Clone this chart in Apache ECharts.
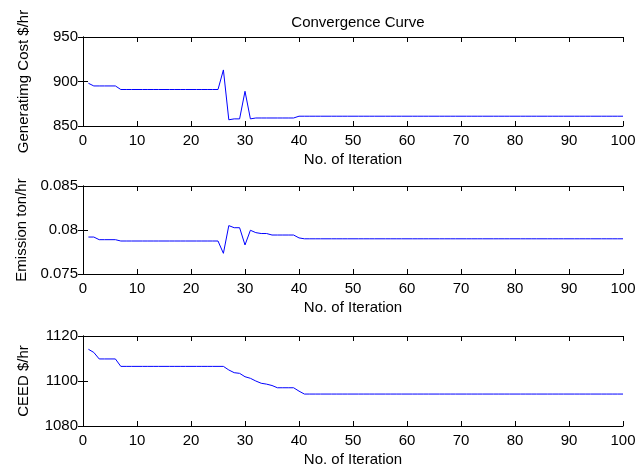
<!DOCTYPE html>
<html>
<head>
<meta charset="utf-8">
<script src="https://cdn.jsdelivr.net/npm/echarts@6/dist/echarts.min.js"></script>
<style>
  html, body { margin: 0; padding: 0; background: #fff; }
  #main { width: 640px; height: 470px; }
</style>
</head>
<body>
<div id="main"></div>
<script>
// values, iteration 1..100
var costData = [
  898, 895, 895, 895, 895, 895, 891, 891, 891, 891,
  891, 891, 891, 891, 891, 891, 891, 891, 891, 891,
  891, 891, 891, 891, 891, 913, 857, 858, 858, 889,
  858, 859, 859, 859, 859, 859, 859, 859, 859, 861,
  861, 861, 861, 861, 861, 861, 861, 861, 861, 861,
  861, 861, 861, 861, 861, 861, 861, 861, 861, 861,
  861, 861, 861, 861, 861, 861, 861, 861, 861, 861,
  861, 861, 861, 861, 861, 861, 861, 861, 861, 861,
  861, 861, 861, 861, 861, 861, 861, 861, 861, 861,
  861, 861, 861, 861, 861, 861, 861, 861, 861, 861
];
var emissionData = [
  0.0792, 0.0792, 0.0789, 0.0789, 0.0789, 0.0789, 0.07875, 0.07875, 0.07875, 0.07875,
  0.07875, 0.07875, 0.07875, 0.07875, 0.07875, 0.07875, 0.07875, 0.07875, 0.07875, 0.07875,
  0.07875, 0.07875, 0.07875, 0.07875, 0.07875, 0.07735, 0.0805, 0.08026, 0.08026, 0.0783,
  0.07997, 0.0797, 0.0796, 0.0796, 0.07943, 0.07943, 0.07943, 0.07943, 0.07943, 0.0791,
  0.0790, 0.0790, 0.0790, 0.0790, 0.0790, 0.0790, 0.0790, 0.0790, 0.0790, 0.0790,
  0.0790, 0.0790, 0.0790, 0.0790, 0.0790, 0.0790, 0.0790, 0.0790, 0.0790, 0.0790,
  0.0790, 0.0790, 0.0790, 0.0790, 0.0790, 0.0790, 0.0790, 0.0790, 0.0790, 0.0790,
  0.0790, 0.0790, 0.0790, 0.0790, 0.0790, 0.0790, 0.0790, 0.0790, 0.0790, 0.0790,
  0.0790, 0.0790, 0.0790, 0.0790, 0.0790, 0.0790, 0.0790, 0.0790, 0.0790, 0.0790,
  0.0790, 0.0790, 0.0790, 0.0790, 0.0790, 0.0790, 0.0790, 0.0790, 0.0790, 0.0790
];
var ceedData = [
  1114.1, 1112.7, 1109.8, 1109.8, 1109.8, 1109.8, 1106.5, 1106.5, 1106.5, 1106.5,
  1106.5, 1106.5, 1106.5, 1106.5, 1106.5, 1106.5, 1106.5, 1106.5, 1106.5, 1106.5,
  1106.5, 1106.5, 1106.5, 1106.5, 1106.5, 1106.5, 1104.9, 1103.7, 1103.4, 1101.9,
  1101.2, 1100.0, 1099.0, 1098.6, 1098.0, 1097.0, 1097.0, 1097.0, 1097.0, 1095.5,
  1094.2, 1094.2, 1094.2, 1094.2, 1094.2, 1094.2, 1094.2, 1094.2, 1094.2, 1094.2,
  1094.2, 1094.2, 1094.2, 1094.2, 1094.2, 1094.2, 1094.2, 1094.2, 1094.2, 1094.2,
  1094.2, 1094.2, 1094.2, 1094.2, 1094.2, 1094.2, 1094.2, 1094.2, 1094.2, 1094.2,
  1094.2, 1094.2, 1094.2, 1094.2, 1094.2, 1094.2, 1094.2, 1094.2, 1094.2, 1094.2,
  1094.2, 1094.2, 1094.2, 1094.2, 1094.2, 1094.2, 1094.2, 1094.2, 1094.2, 1094.2,
  1094.2, 1094.2, 1094.2, 1094.2, 1094.2, 1094.2, 1094.2, 1094.2, 1094.2, 1094.2
];

var xRange = [0, 100, 10];
var yRanges = [[850, 950, 50], [0.075, 0.085, 0.005], [1080, 1120, 20]];
var yNames = ['Generatimg Cost $/hr', 'Emission ton/hr', 'CEED $/hr'];
var xName = 'No. of Iteration';
var titleText = 'Convergence Curve';

var FONT = 'Liberation Sans, Arial, sans-serif';
var FS = 15;
var chart = echarts.init(document.getElementById('main'), null, { renderer: 'canvas' });

function pairs(vals) {
  var out = [];
  for (var i = 0; i < vals.length; i++) out.push([i + 1, vals[i]]);
  return out;
}
// plain numbers, no thousands separator (matlab style)
function plain(v) {
  return String(+v.toPrecision(6));
}

var tops = [37, 186, 336];
var heights = [89, 88, 90];
var grids = [], xAxes = [], yAxes = [], series = [];
var allData = [costData, emissionData, ceedData];
var line = { show: true, lineStyle: { color: '#000', width: 1 } };
var tick = { inside: true, length: 5, lineStyle: { color: '#000' } };

for (var k = 0; k < 3; k++) {
  grids.push({ left: 83, width: 540, top: tops[k], height: heights[k] });
  // bottom x axis with labels
  xAxes.push({
    gridIndex: k, type: 'value', position: 'bottom',
    min: xRange[0], max: xRange[1], interval: xRange[2],
    axisLine: line, axisTick: tick,
    splitLine: { show: false },
    axisLabel: { color: '#000', fontSize: FS, fontFamily: FONT, margin: 7, formatter: plain },
    name: xName, nameLocation: 'middle', nameGap: 26,
    nameTextStyle: { color: '#000', fontSize: FS, fontFamily: FONT }
  });
  // top x axis, ticks only
  xAxes.push({
    gridIndex: k, type: 'value', position: 'top',
    min: xRange[0], max: xRange[1], interval: xRange[2],
    axisLine: line, axisTick: tick,
    splitLine: { show: false }, axisLabel: { show: false }
  });
  yAxes.push({
    gridIndex: k, type: 'value', position: 'left',
    min: yRanges[k][0], max: yRanges[k][1], interval: yRanges[k][2],
    axisLine: line, axisTick: tick,
    splitLine: { show: false },
    axisLabel: { color: '#000', fontSize: FS, fontFamily: FONT, margin: 5, formatter: plain },
    name: yNames[k], nameLocation: 'middle', nameGap: 52,
    nameTextStyle: { color: '#000', fontSize: FS, fontFamily: FONT }
  });
  yAxes.push({
    gridIndex: k, type: 'value', position: 'right',
    min: yRanges[k][0], max: yRanges[k][1], interval: yRanges[k][2],
    axisLine: line, axisTick: tick,
    splitLine: { show: false }, axisLabel: { show: false }
  });
  series.push({
    type: 'line', xAxisIndex: k * 2, yAxisIndex: k * 2,
    data: pairs(allData[k]), showSymbol: false, symbol: 'none',
    lineStyle: { color: '#0000ff', width: 1 }, animation: false
  });
}

chart.setOption({
  animation: false,
  title: {
    text: titleText, left: 353, top: 10, textAlign: 'center',
    textStyle: { color: '#000', fontSize: FS, fontWeight: 'normal', fontFamily: FONT }
  },
  grid: grids,
  xAxis: xAxes,
  yAxis: yAxes,
  series: series
});
</script>
</body>
</html>
